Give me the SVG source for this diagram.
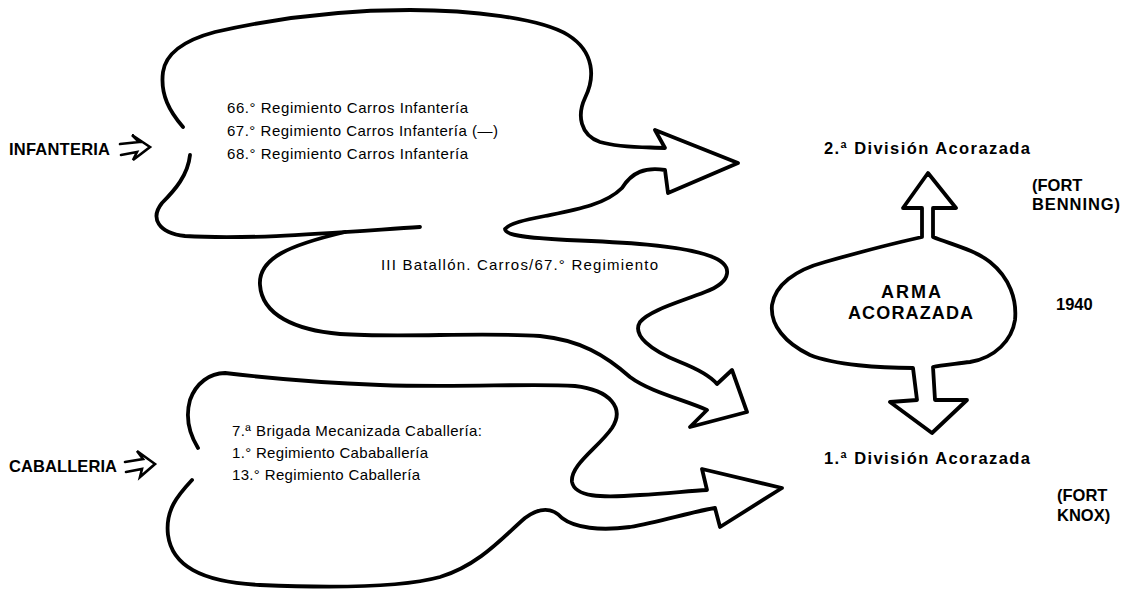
<svg xmlns="http://www.w3.org/2000/svg" width="1132" height="591" viewBox="0 0 1132 591">
<style>
.ol{fill:none;stroke:#000;stroke-width:3.8;stroke-linejoin:round;stroke-linecap:round}
.sm{fill:none;stroke:#000;stroke-width:2.6;stroke-linejoin:miter;stroke-linecap:round}
.t{font-family:"Liberation Sans",Arial,sans-serif;font-size:15px;fill:#000}
.b{font-family:"Liberation Sans",Arial,sans-serif;font-size:16.5px;font-weight:bold;fill:#000}
.c{font-family:"Liberation Sans",Arial,sans-serif;font-size:18px;font-weight:bold;fill:#000}
</style>
<rect width="1132" height="591" fill="#fff"/>
<g id="connectors">
<path class="sm" d="M120,144 L139,142 L132,135 L150,147 L133,160 L137,152 L121,155"/>
<path class="sm" d="M125,462 L143,459 L137,451 L155,464 L140,477 L142,469 L126,472"/>
</g>
<g id="infanteria-blob">
<path class="ol" d="M183,127 C170,112 160,95 163,72 C166,52 185,40 215,32 C280,17 350,10 410,10 C470,10 540,18 568,35 C595,52 595,78 585,98 C577,115 580,135 600,142 C620,148 645,147 665,148 L655,130 L738,163 L668,193 L665,170 C645,167 632,172 622,188 C605,205 575,210 545,216 C525,220 510,223 505,229 C505,236 530,238 567,240 C620,242 680,245 710,256 C735,265 732,282 705,292 C680,302 650,310 640,322 C632,335 650,350 680,362 C700,370 712,378 717,384 L732,370 L747,412 L690,427 L707,410 C685,400 650,392 630,377 C605,355 580,340 540,336 C480,332 400,338 340,334 C295,330 262,315 260,285 C258,258 290,245 345,232"/>
<path class="ol" d="M190,155 C188,175 175,190 162,203 C150,218 158,233 185,236 C250,240 330,233 420,227"/>
<text class="t" x="227" y="113" textLength="241" lengthAdjust="spacing">66.° Regimiento Carros Infantería</text>
<text class="t" x="227" y="136" textLength="271" lengthAdjust="spacing">67.° Regimiento Carros Infantería (—)</text>
<text class="t" x="227" y="159" textLength="241" lengthAdjust="spacing">68.° Regimiento Carros Infantería</text>
<text class="t" x="381" y="270" textLength="277" lengthAdjust="spacing">III Batallón. Carros/67.° Regimiento</text>
</g>
<g id="infanteria-label">
<text class="b" x="9" y="155" textLength="101" lengthAdjust="spacing">INFANTERIA</text>
</g>
<g id="caballeria-blob">
<path class="ol" d="M198,448 C190,435 185,418 190,400 C196,383 210,373 225,373 C250,376 300,382 380,385 C460,388 530,383 575,386 C610,390 625,408 612,428 C598,448 570,465 572,482 C575,497 600,498 640,495 C670,493 690,491 707,490 L702,469 L782,488 L720,527 L715,508 C690,512 660,522 630,527 C600,531 575,528 562,518 C552,507 540,507 525,518 C505,535 480,565 440,577 C400,588 330,588 260,585 C200,582 172,565 168,535 C165,510 178,495 192,480"/>
<text class="t" x="232" y="436" textLength="250" lengthAdjust="spacing">7.ª Brigada Mecanizada Caballería:</text>
<text class="t" x="232" y="458" textLength="196" lengthAdjust="spacing">1.° Regimiento Cababallería</text>
<text class="t" x="232" y="480" textLength="188" lengthAdjust="spacing">13.° Regimiento Caballería</text>
</g>
<g id="caballeria-label">
<text class="b" x="9" y="472" textLength="108" lengthAdjust="spacing">CABALLERIA</text>
</g>
<g id="arma-acorazada">
<path class="ol" d="M922,237 L922,208 L903,208 L928,173 L956,208 L933,208 L933,237 C950,244 975,250 990,262 C1010,278 1017,300 1015,320 C1012,340 995,358 970,362 C955,364 940,365 933,367 L935,400 L967,400 L932,433 L890,402 L917,400 L913,368 C880,368 835,365 810,355 C785,343 770,325 772,305 C775,285 795,270 825,262 C860,252 895,243 922,237 Z"/>
<text class="c" x="881" y="298" textLength="60" lengthAdjust="spacing">ARMA</text>
<text class="c" x="848" y="319" textLength="125" lengthAdjust="spacing">ACORAZADA</text>
</g>
<g id="division2">
<text class="b" x="824" y="154" textLength="206" lengthAdjust="spacing">2.ª División Acorazada</text>
<text class="b" x="1032" y="191">(FORT</text>
<text class="b" x="1032" y="210" textLength="88" lengthAdjust="spacing">BENNING)</text>
</g>
<g id="division1">
<text class="b" x="824" y="464" textLength="206" lengthAdjust="spacing">1.ª División Acorazada</text>
<text class="b" x="1057" y="501">(FORT</text>
<text class="b" x="1057" y="521">KNOX)</text>
</g>
<g id="year">
<text class="b" x="1056" y="310">1940</text>
</g>
</svg>
